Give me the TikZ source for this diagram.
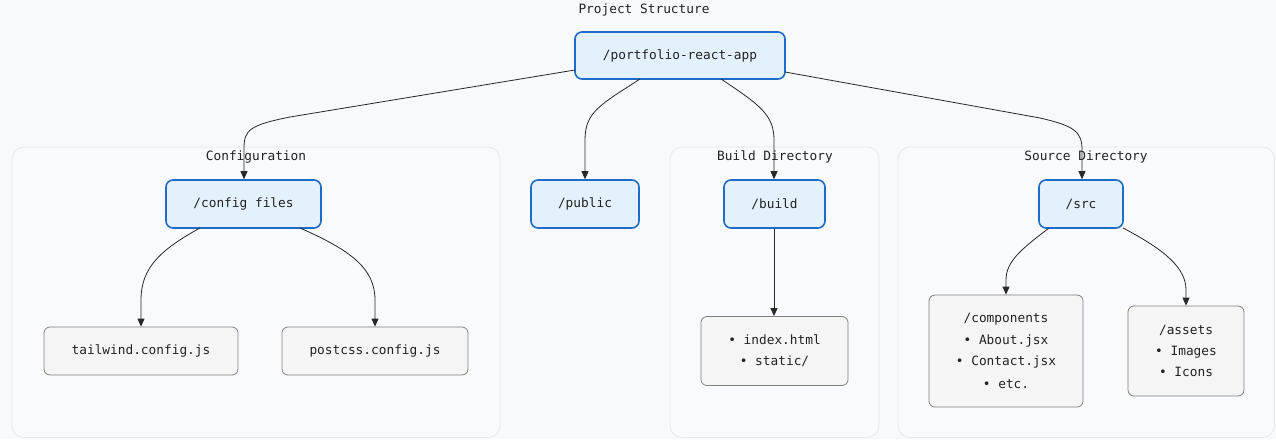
\documentclass[tikz,border=0pt]{standalone}
\usepackage{fontspec}
\setmonofont{DejaVu Sans Mono}
\usetikzlibrary{arrows.meta}
\definecolor{bgc}{RGB}{248,249,253}
\definecolor{clfill}{RGB}{249,250,253}
\definecolor{cldraw}{RGB}{230,232,237}
\definecolor{bluefill}{RGB}{227,241,252}
\definecolor{bluedraw}{RGB}{30,108,200}
\definecolor{grayfill}{RGB}{245,245,245}
\definecolor{graydraw}{RGB}{128,128,128}
\definecolor{edgec}{RGB}{40,40,40}
\definecolor{txt}{RGB}{34,34,34}
\tikzset{
  every node/.style={font=\ttfamily\fontsize{12.8}{14}\selectfont, text=txt},
  cluster/.style={draw=cldraw, fill=clfill, line width=0.8pt, rounded corners=12pt},
  bluebox/.style={draw=bluedraw, fill=bluefill, line width=1.6pt, rounded corners=7pt, inner sep=0pt},
  graybox/.style={draw=graydraw, fill=grayfill, line width=0.8pt, rounded corners=6pt, inner sep=0pt, align=center},
  lbl/.style={inner sep=0pt, anchor=center},
  edge/.style={draw=edgec, line width=0.8pt, -{Triangle[length=8pt,width=7pt]}},
}
\begin{document}
\begin{tikzpicture}[x=1pt,y=-1pt]
\useasboundingbox (0,0) rectangle (1276,439);
\fill[bgc] (0,0) rectangle (1276,439);

% clusters
\draw[cluster] (12,147) rectangle (500,437.5);
\draw[cluster] (670,147) rectangle (879,437.5);
\draw[cluster] (898,147) rectangle (1274.5,437.5);

\node[lbl] (title) at (644,10) {Project Structure};
\node[lbl] (tconf) at (256,157) {Configuration};
\node[lbl] (tbuild) at (775,157) {Build Directory};
\node[lbl] (tsrc) at (1086,157) {Source Directory};

% nodes
\node[bluebox, minimum width=210pt, minimum height=47pt] (root) at (680,55.5) {/portfolio-react-app};
\node[bluebox, minimum width=155pt, minimum height=48pt] (conf) at (243.5,204) {/config files};
\node[bluebox, minimum width=108pt, minimum height=48pt] (pub) at (585,204) {/public};
\node[bluebox, minimum width=101pt, minimum height=48pt] (build) at (774.5,204) {/build};
\node[bluebox, minimum width=84pt, minimum height=48pt] (src) at (1081,204) {/src};

\node[graybox, minimum width=194pt, minimum height=48pt] (tw) at (141,351) {tailwind.config.js};
\node[graybox, minimum width=186pt, minimum height=48pt] (pc) at (375,351) {postcss.config.js};
\node[graybox, minimum width=147pt, minimum height=69pt] (idx) at (774.5,351) {};
\node[lbl] (idx1) at (774.5,340) {• index.html};
\node[lbl] (idx2) at (774.5,361) {• static/};
\node[graybox, minimum width=154pt, minimum height=112pt] (comp) at (1006,351) {};
\node[lbl] (comp1) at (1006,319) {/components};
\node[lbl] (comp2) at (1006,341) {• About.jsx};
\node[lbl] (comp3) at (1006,362) {• Contact.jsx};
\node[lbl] (comp4) at (1006,384) {• etc.};
\node[graybox, minimum width=116pt, minimum height=90pt] (ast) at (1186,351) {};
\node[lbl] (ast1) at (1186,330) {/assets};
\node[lbl] (ast2) at (1186,352) {• Images};
\node[lbl] (ast3) at (1186,372) {• Icons};

% edges
\coordinate (r1) at (575,70);
\coordinate (r2) at (640,79);
\coordinate (r3) at (721,79);
\coordinate (r4) at (785,72);
\draw[edge] (r1) -- (290,117) .. controls (250,125) and (244,130) .. (244,148) -- (conf.north -| 244,0);
\draw[edge] (r2) .. controls (600,105) and (585,112) .. (585,140) -- (pub.north);
\draw[edge] (r3) .. controls (760,105) and (774,115) .. (774,140) -- (build.north -| 774,0);
\draw[edge] (r4) -- (1040,118) .. controls (1075,126) and (1082,132) .. (1082,150) -- (src.north -| 1082,0);

\coordinate (c1) at (200,228);
\coordinate (c2) at (300,228);
\draw[edge] (c1) .. controls (160,250) and (141,268) .. (141,300) -- (tw.north);
\draw[edge] (c2) .. controls (350,250) and (375,268) .. (375,300) -- (pc.north);
\draw[edge] (build.south -| 774,0) -- (idx.north -| 774,0);
\coordinate (s1) at (1049,228);
\coordinate (s2) at (1123,228);
\draw[edge] (s1) .. controls (1020,250) and (1006,262) .. (1006,280) -- (comp.north);
\draw[edge] (s2) .. controls (1165,250) and (1186,268) .. (1186,290) -- (ast.north);
\end{tikzpicture}
\end{document}
